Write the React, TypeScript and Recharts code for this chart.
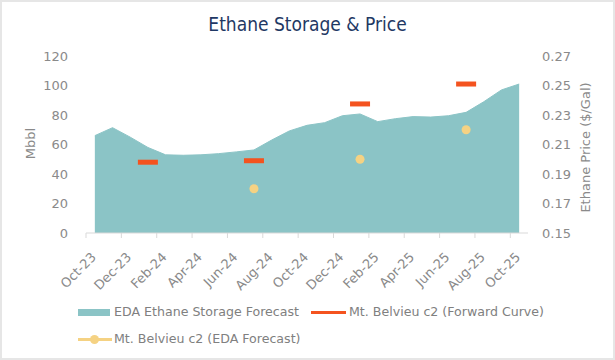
import { ComposedChart, Area, Line, XAxis, YAxis } from "recharts";

// monthly categories, Oct-23 .. Oct-25
const months = [
  "Oct-23", "Nov-23", "Dec-23", "Jan-24", "Feb-24", "Mar-24", "Apr-24",
  "May-24", "Jun-24", "Jul-24", "Aug-24", "Sep-24", "Oct-24", "Nov-24",
  "Dec-24", "Jan-25", "Feb-25", "Mar-25", "Apr-25", "May-25", "Jun-25",
  "Jul-25", "Aug-25", "Sep-25", "Oct-25",
];

// EDA ethane storage forecast (Mbbl)
const storage = [
  66, 71.4, 65, 58, 53, 52.7, 53, 53.8, 55, 56.3, 63, 69.2, 73, 74.8,
  79.5, 80.7, 75.5, 77.5, 78.9, 78.6, 79.5, 81.8, 89, 97, 101,
];

// Mt. Belvieu c2 forward curve ($/gal), quarterly marks
const forward: (number | null)[] = [
  null, null, null, 0.198, null, null, null, null, null, 0.199, null, null,
  null, null, null, 0.2375, null, null, null, null, null, 0.251, null, null, null,
];

// Mt. Belvieu c2 EDA forecast ($/gal)
const edaForecast: (number | null)[] = [
  null, null, null, null, null, null, null, null, null, 0.18, null, null,
  null, null, null, 0.2, null, null, null, null, null, 0.22, null, null, null,
];

const leftTicks = [0, 20, 40, 60, 80, 100, 120];
const rightTicks = [0.15, 0.17, 0.19, 0.21, 0.23, 0.25, 0.27];

const data = months.map((m, i) => ({
  month: m,
  storage: storage[i],
  forward: forward[i],
  eda: edaForecast[i],
}));

const TEAL = "#8BC4C6";
const RED = "#F4531F";
const YELLOW = "#F5D283";
const GRAY = "#8a8a8a";
const FONT = "'DejaVu Sans', sans-serif";
const HALF_STEP = 8.84;

const XTick = (props: any) => {
  const { x, y, payload } = props;
  return (
    <g>
      <line x1={x - HALF_STEP} x2={x - HALF_STEP} y1={y - 8} y2={y - 3} stroke="#d9d9d9" />
      <text
        transform={`translate(${x + 2},${y + 17}) rotate(-45)`}
        textAnchor="end"
        fill={GRAY}
        fontSize={13}
        fontFamily={FONT}
      >
        {payload.value}
      </text>
    </g>
  );
};

const Dash = (props: any) => {
  const { cx, cy, index } = props;
  if (cy == null || isNaN(cy)) return <g key={index} />;
  return <rect key={index} x={cx - 10} y={cy - 2.5} width={20} height={5} fill={RED} />;
};

const Dot = (props: any) => {
  const { cx, cy, index } = props;
  if (cy == null || isNaN(cy)) return <g key={index} />;
  return <circle key={index} cx={cx} cy={cy} r={4.5} fill={YELLOW} />;
};

const legendText: any = {
  position: "absolute",
  fontFamily: FONT,
  fontSize: 12.6,
  color: "#808080",
  lineHeight: "16px",
  whiteSpace: "nowrap",
};

export default function App() {
  return (
    <div style={{ position: "absolute", left: 0, top: 0, width: 615, height: 360, background: "#fff" }}>
      <div
        style={{
          position: "absolute",
          left: 0,
          top: 14,
          width: 615,
          textAlign: "center",
          fontFamily: "'Liberation Sans Narrow', 'DejaVu Sans Condensed', sans-serif",
          fontSize: 19,
          lineHeight: "20px",
          color: "#1F3864",
        }}
      >
        Ethane Storage &amp; Price
      </div>

      <div style={{ position: "absolute", left: 0, top: 0 }}>
        <ComposedChart width={615} height={360} data={data} margin={{ top: 56, right: 27, bottom: 0, left: 26 }}>
          <XAxis
            dataKey="month"
            interval={1}
            height={127}
            padding={{ left: HALF_STEP, right: HALF_STEP }}
            tickLine={false}
            axisLine={{ stroke: "#d9d9d9" }}
            tick={<XTick />}
          />
          <YAxis
            yAxisId="left"
            domain={[0, 120]}
            ticks={leftTicks}
            width={60}
            axisLine={false}
            tickLine={false}
            tickMargin={12}
            tick={{ fill: GRAY, fontSize: 13, fontFamily: FONT }}
            label={{
              content: (p: any) => {
                const vb = p.viewBox;
                const cx = vb.x + 4;
                const cy = vb.y + vb.height / 2 - 1;
                return (
                  <text
                    x={cx}
                    y={cy}
                    transform={`rotate(-90 ${cx} ${cy})`}
                    textAnchor="middle"
                    dominantBaseline="central"
                    fill={GRAY}
                    fontSize={13}
                    fontFamily={FONT}
                  >
                    Mbbl
                  </text>
                );
              },
            }}
          />
          <YAxis
            yAxisId="right"
            orientation="right"
            domain={[0.15, 0.27]}
            ticks={rightTicks}
            width={60}
            axisLine={false}
            tickLine={false}
            tickMargin={8}
            tickFormatter={(v: number) => v.toFixed(2)}
            tick={{ fill: GRAY, fontSize: 13, fontFamily: FONT }}
            label={{
              content: (p: any) => {
                const vb = p.viewBox;
                const cx = vb.x + 57;
                const cy = vb.y + vb.height / 2 + 3;
                return (
                  <text
                    x={cx}
                    y={cy}
                    transform={`rotate(-90 ${cx} ${cy})`}
                    textAnchor="middle"
                    dominantBaseline="central"
                    fill={GRAY}
                    fontSize={13}
                    fontFamily={FONT}
                  >
                    Ethane Price ($/Gal)
                  </text>
                );
              },
            }}
          />
          <Area
            yAxisId="left"
            type="linear"
            dataKey="storage"
            fill={TEAL}
            fillOpacity={1}
            stroke={TEAL}
            strokeWidth={1}
            isAnimationActive={false}
            activeDot={false}
          />
          <Line
            yAxisId="right"
            dataKey="forward"
            stroke="none"
            dot={<Dash />}
            activeDot={false}
            isAnimationActive={false}
          />
          <Line
            yAxisId="right"
            dataKey="eda"
            stroke="none"
            dot={<Dot />}
            activeDot={false}
            isAnimationActive={false}
          />
        </ComposedChart>
      </div>

      {/* legend */}
      <div style={{ position: "absolute", left: 78, top: 309, width: 32, height: 7, background: TEAL }} />
      <div style={{ ...legendText, left: 114, top: 304 }}>EDA Ethane Storage Forecast</div>
      <div style={{ position: "absolute", left: 311, top: 311, width: 35, height: 3, background: RED }} />
      <div style={{ ...legendText, left: 349, top: 304 }}>Mt. Belvieu c2 (Forward Curve)</div>
      <div style={{ position: "absolute", left: 78, top: 338, width: 34, height: 3, background: YELLOW }} />
      <div
        style={{
          position: "absolute",
          left: 90,
          top: 335,
          width: 9,
          height: 9,
          borderRadius: "50%",
          background: YELLOW,
        }}
      />
      <div style={{ ...legendText, left: 114, top: 331 }}>Mt. Belvieu c2 (EDA Forecast)</div>

      <div
        style={{
          position: "absolute",
          left: 0,
          top: 0,
          width: 615,
          height: 360,
          boxSizing: "border-box",
          border: "2px solid #e6e6e6",
          pointerEvents: "none",
        }}
      />
    </div>
  );
}
